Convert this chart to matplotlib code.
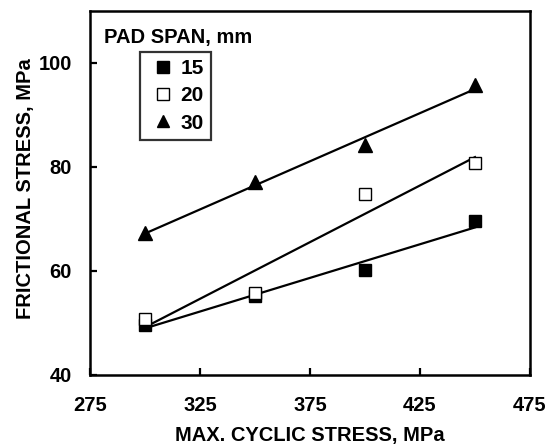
import matplotlib
matplotlib.use("Agg")
import matplotlib.pyplot as plt
import numpy as np

plt.rcParams['font.family'] = ['Liberation Sans', 'DejaVu Sans']
plt.rcParams['font.weight'] = 'bold'

x_stress = [300, 350, 400, 450]
span_labels = ['15', '20', '30']
fric_15 = [49.7, 55.2, 60.2, 69.6]
fric_20 = [50.8, 55.8, 74.8, 80.8]
fric_30 = [67.3, 77.1, 84.2, 95.8]
xticks = [275, 325, 375, 425, 475]
yticks = [40, 60, 80, 100]

fig = plt.figure(figsize=(5.54, 4.47), dpi=100)
ax = fig.add_axes([90/554, 1-375/447, 440/554, 364/447])

styles = [dict(marker='s', mfc='black', mec='black', ms=8.5),
          dict(marker='s', mfc='white', mec='black', ms=8.5, mew=1.0),
          dict(marker='^', mfc='black', mec='black', ms=9.5)]
series = [fric_15, fric_20, fric_30]
xs = np.array(x_stress, dtype=float)
for ys in series:
    coef = np.polyfit(xs, ys, 1)
    xl = np.array([xs.min(), xs.max()])
    ax.plot(xl, np.polyval(coef, xl), color='black', lw=1.6, zorder=2)
for ys, st, lab in zip(series, styles, span_labels):
    ax.plot(xs, ys, ls='none', zorder=3, label=lab, **st)

ax.set_xlim(275, 475)
ax.set_ylim(40, 110)
ax.set_xticks(xticks)
ax.set_yticks(yticks)
ax.tick_params(direction='in', length=5, width=1.6, labelsize=14.5)
ax.tick_params(axis='y', pad=13)
ax.tick_params(axis='x', pad=15)
for lbl in ax.get_xticklabels() + ax.get_yticklabels():
    lbl.set_fontweight('bold')
for s in ax.spines.values():
    s.set_linewidth(1.8)

ax.set_xlabel('MAX. CYCLIC STRESS, MPa', fontsize=14.5, fontweight='bold', labelpad=8)
ax.set_ylabel('FRICTIONAL STRESS, MPa', fontsize=14.5, fontweight='bold')
ax.yaxis.set_label_coords((35-90)/440, (375-189)/364)

fig.text(104/554, 1-37/447, 'PAD SPAN, mm', fontsize=14.5, fontweight='bold',
         va='center', ha='left')

leg_handles = [plt.Line2D([], [], ls='none', **dict(st, ms=8)) for st in styles]
leg = ax.legend(leg_handles, span_labels, loc='upper left',
                bbox_to_anchor=((140-90)/440, (375-52)/364), frameon=True,
                fancybox=False, edgecolor='black', fontsize=15,
                handlelength=1.5, handletextpad=0.1, borderpad=0.35,
                labelspacing=0.39, borderaxespad=0)
leg.get_frame().set_linewidth(1.6)
for t in leg.get_texts():
    t.set_fontweight('bold')

fig.savefig('out.png', dpi=100)
